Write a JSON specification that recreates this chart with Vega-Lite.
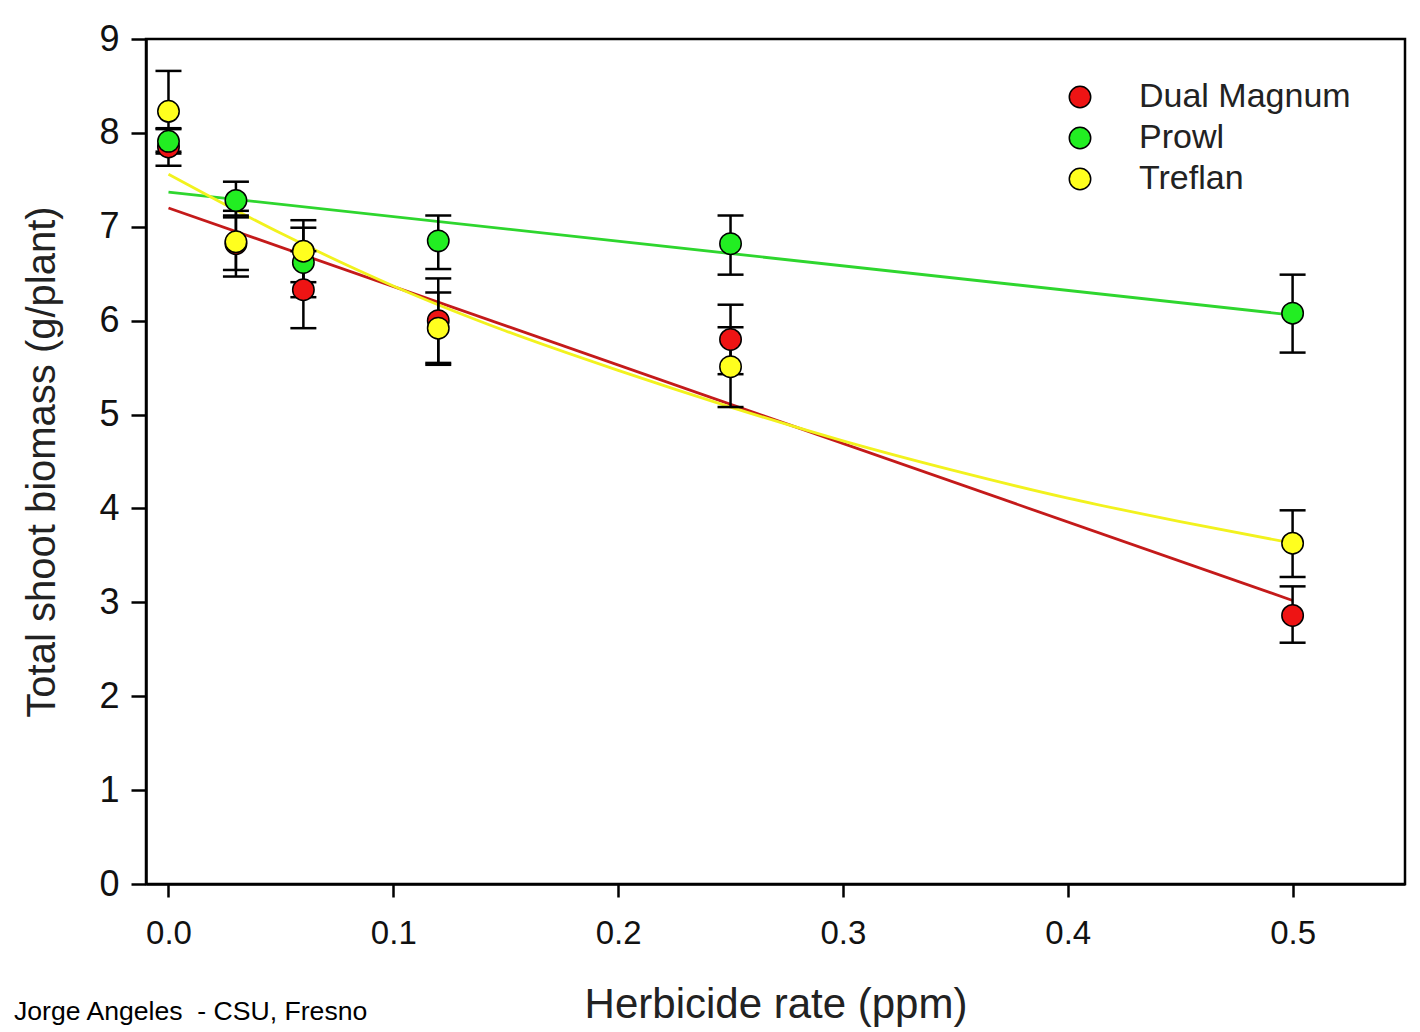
{
  "$schema": "https://vega.github.io/schema/vega-lite/v6.json",
  "width": 1259,
  "height": 845,
  "autosize": {"type": "none"},
  "padding": {"left": 146, "top": 39, "right": 15, "bottom": 148},
  "background": "white",
  "config": {
    "font": "Liberation Sans",
    "view": {"stroke": "black", "strokeWidth": 2.5},
    "axis": {
      "domainColor": "black", "domainWidth": 2.5,
      "tickColor": "black", "tickWidth": 2.5,
      "labelColor": "#111111", "titleColor": "#222222",
      "labelFont": "Liberation Sans", "titleFont": "Liberation Sans",
      "titleFontWeight": "normal", "grid": false
    }
  },
  "title": {
    "text": "Jorge Angeles\u00a0 - CSU, Fresno",
    "orient": "bottom", "anchor": "start", "frame": "group",
    "dx": -132, "offset": -26, "fontSize": 26.6, "fontWeight": "normal",
    "font": "Liberation Sans", "color": "black", "baseline": "top"
  },
  "datasets": {
    "obs": [
      {"herbicide": "Dual Magnum", "rate": 0.0, "mean": 7.85, "lo": 7.65, "hi": 8.05},
      {"herbicide": "Dual Magnum", "rate": 0.03, "mean": 6.82, "lo": 6.54, "hi": 7.1},
      {"herbicide": "Dual Magnum", "rate": 0.06, "mean": 6.33, "lo": 5.92, "hi": 6.74},
      {"herbicide": "Dual Magnum", "rate": 0.12, "mean": 6.0, "lo": 5.55, "hi": 6.45},
      {"herbicide": "Dual Magnum", "rate": 0.25, "mean": 5.8, "lo": 5.43, "hi": 6.17},
      {"herbicide": "Dual Magnum", "rate": 0.5, "mean": 2.86, "lo": 2.57, "hi": 3.17},
      {"herbicide": "Prowl", "rate": 0.0, "mean": 7.91, "lo": 7.78, "hi": 8.04},
      {"herbicide": "Prowl", "rate": 0.03, "mean": 7.28, "lo": 7.12, "hi": 7.48},
      {"herbicide": "Prowl", "rate": 0.06, "mean": 6.62, "lo": 6.25, "hi": 6.99},
      {"herbicide": "Prowl", "rate": 0.12, "mean": 6.85, "lo": 6.55, "hi": 7.12},
      {"herbicide": "Prowl", "rate": 0.25, "mean": 6.82, "lo": 6.49, "hi": 7.12},
      {"herbicide": "Prowl", "rate": 0.5, "mean": 6.08, "lo": 5.66, "hi": 6.49},
      {"herbicide": "Treflan", "rate": 0.0, "mean": 8.23, "lo": 7.8, "hi": 8.66},
      {"herbicide": "Treflan", "rate": 0.03, "mean": 6.84, "lo": 6.47, "hi": 7.17},
      {"herbicide": "Treflan", "rate": 0.06, "mean": 6.74, "lo": 6.41, "hi": 7.07},
      {"herbicide": "Treflan", "rate": 0.12, "mean": 5.92, "lo": 5.53, "hi": 6.3},
      {"herbicide": "Treflan", "rate": 0.25, "mean": 5.51, "lo": 5.08, "hi": 5.93},
      {"herbicide": "Treflan", "rate": 0.5, "mean": 3.63, "lo": 3.27, "hi": 3.98}
    ],
    "fits": [
      {"herbicide": "Dual Magnum", "rate": 0.0, "fit": 7.2},
      {"herbicide": "Dual Magnum", "rate": 0.5, "fit": 3.02},
      {"herbicide": "Prowl", "rate": 0.0, "fit": 7.37},
      {"herbicide": "Prowl", "rate": 0.5, "fit": 6.06},
      {"herbicide": "Treflan", "rate": 0.0, "fit": 7.56},
      {"herbicide": "Treflan", "rate": 0.05, "fit": 6.93},
      {"herbicide": "Treflan", "rate": 0.1, "fit": 6.37},
      {"herbicide": "Treflan", "rate": 0.15, "fit": 5.89},
      {"herbicide": "Treflan", "rate": 0.2, "fit": 5.47},
      {"herbicide": "Treflan", "rate": 0.25, "fit": 5.08},
      {"herbicide": "Treflan", "rate": 0.3, "fit": 4.72},
      {"herbicide": "Treflan", "rate": 0.35, "fit": 4.4},
      {"herbicide": "Treflan", "rate": 0.4, "fit": 4.11},
      {"herbicide": "Treflan", "rate": 0.45, "fit": 3.86},
      {"herbicide": "Treflan", "rate": 0.5, "fit": 3.63}
    ]
  },
  "encoding": {
    "x": {
      "field": "rate", "type": "quantitative",
      "scale": {"domain": [-0.01, 0.55], "nice": false, "zero": false},
      "axis": {
        "title": "Herbicide rate (ppm)", "values": [0, 0.1, 0.2, 0.3, 0.4, 0.5],
        "format": ".1f", "tickSize": 13, "labelFontSize": 33, "labelPadding": 20,
        "titleFontSize": 42, "titlePadding": 34
      }
    },
    "y": {
      "type": "quantitative",
      "scale": {"domain": [0, 9], "nice": false},
      "axis": {
        "title": "Total shoot biomass (g/plant)", "values": [0, 1, 2, 3, 4, 5, 6, 7, 8, 9],
        "format": "d", "tickSize": 15, "labelFontSize": 36, "labelPadding": 12,
        "titleFontSize": 40, "titlePadding": 36
      }
    }
  },
  "resolve": {"scale": {"stroke": "independent", "fill": "independent"}, "legend": {"stroke": "independent", "fill": "independent"}},
  "layer": [
    {
      "data": {"name": "fits"},
      "mark": {"type": "line", "strokeWidth": 2.8, "interpolate": "monotone"},
      "encoding": {
        "y": {"field": "fit", "type": "quantitative"},
        "stroke": {
          "field": "herbicide", "type": "nominal", "legend": null,
          "scale": {"domain": ["Dual Magnum", "Prowl", "Treflan"], "range": ["#c41a1a", "#2ed62e", "#f2f21e"]}
        },
        "detail": {"field": "herbicide"}
      }
    },
    {
      "data": {"name": "obs"},
      "mark": {"type": "rule", "color": "black", "strokeWidth": 2.5},
      "encoding": {
        "y": {"field": "lo", "type": "quantitative"},
        "y2": {"field": "hi"}
      }
    },
    {
      "data": {"name": "obs"},
      "transform": [{"fold": ["lo", "hi"], "as": ["end", "val"]}],
      "mark": {"type": "tick", "orient": "horizontal", "color": "black", "size": 26, "thickness": 2.5, "opacity": 1},
      "encoding": {
        "y": {"field": "val", "type": "quantitative"}
      }
    },
    {
      "data": {"name": "obs"},
      "mark": {"type": "point", "shape": "circle", "filled": true, "size": 460, "stroke": "black", "strokeWidth": 1.5, "opacity": 1},
      "encoding": {
        "y": {"field": "mean", "type": "quantitative"},
        "fill": {
          "field": "herbicide", "type": "nominal",
          "scale": {"domain": ["Dual Magnum", "Prowl", "Treflan"], "range": ["#ee1414", "#22ee22", "#ffff1e"]},
          "legend": {
            "title": null, "orient": "none", "legendX": 917, "legendY": 41,
            "labelFontSize": 34, "labelFont": "Liberation Sans", "labelColor": "#222222",
            "labelLimit": 500,
            "symbolType": "circle", "symbolSize": 460, "symbolStrokeColor": "black",
            "symbolStrokeWidth": 1.5, "symbolOpacity": 1, "labelOffset": 42, "rowPadding": 7
          }
        }
      }
    }
  ]
}
